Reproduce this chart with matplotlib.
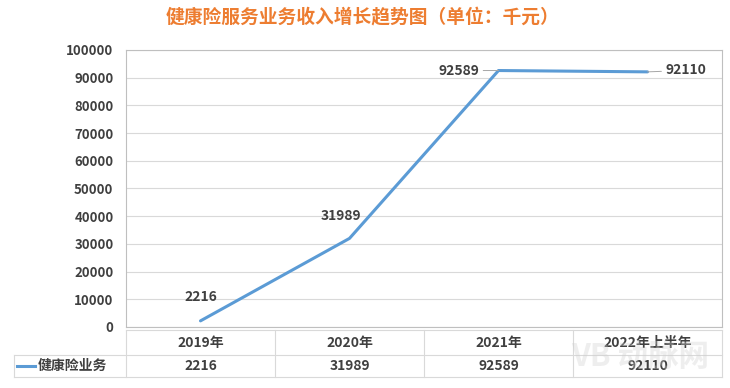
import matplotlib.pyplot as plt

plt.rcParams['font.family'] = ['Noto Sans CJK SC', 'DejaVu Sans']

years = ['2019年', '2020年', '2021年', '2022年上半年']
revenue = [2216, 31989, 92589, 92110]
series_name = '健康险业务'
y_ticks = [0, 10000, 20000, 30000, 40000, 50000, 60000, 70000, 80000, 90000, 100000]

line_color = '#5B9BD5'
text_color = '#404040'
grid_color = '#D9D9D9'

fig = plt.figure(figsize=(7.3, 3.88), dpi=100)
ax = fig.add_axes([126 / 730, 1 - 327 / 388, 596 / 730, 277 / 388])

x = list(range(len(years)))
ax.plot(x, revenue, color=line_color, linewidth=2.2, solid_capstyle='round')

ax.set_xlim(-0.5, len(years) - 0.5)
ax.set_ylim(0, 100000)
ax.set_yticks(y_ticks)
ax.set_yticklabels([str(v) for v in y_ticks], fontsize=9.5, fontweight='bold', color=text_color)
ax.set_xticks([])
ax.tick_params(axis='y', length=0, pad=9)
ax.grid(axis='y', color=grid_color, linewidth=0.8)
ax.set_axisbelow(True)
for s in ax.spines.values():
    s.set_color('#BFBFBF')
    s.set_linewidth(0.8)

# data labels
lab_kw = dict(fontsize=10, fontweight='bold', color=text_color)
ax.annotate(str(revenue[0]), (x[0], revenue[0]), xytext=(0, 12), textcoords='offset points',
            ha='center', va='bottom', **lab_kw)
ax.annotate(str(revenue[1]), (x[1], revenue[1]), xytext=(-6, 11), textcoords='offset points',
            ha='center', va='bottom', **lab_kw)
ax.annotate(str(revenue[2]), (x[2], revenue[2]), xytext=(-14, 0), textcoords='offset points',
            ha='right', va='center', arrowprops=dict(arrowstyle='-', color='#A6A6A6', lw=0.7,
                                                     shrinkA=1, shrinkB=0), **lab_kw)
ax.annotate(str(revenue[3]), (x[3], revenue[3]), xytext=(13, 1), textcoords='offset points',
            ha='left', va='center', arrowprops=dict(arrowstyle='-', color='#A6A6A6', lw=0.7,
                                                    shrinkA=1, shrinkB=0), **lab_kw)

# data table below the plot
tr = ax.transAxes
col_w = 1 / len(years)
left = (14 - 126) / 596
y_top = (327 - 330) / 277
y_mid = (327 - 355) / 277
y_bot = (327 - 377) / 277
line_kw = dict(transform=tr, color=grid_color, linewidth=0.8, clip_on=False)
ax.plot([0, 1], [y_top, y_top], **line_kw)
ax.plot([left, 1], [y_mid, y_mid], **line_kw)
ax.plot([left, 1], [y_bot, y_bot], **line_kw)
ax.plot([left, left], [y_mid, y_bot], **line_kw)
for i in range(len(years) + 1):
    ax.plot([i * col_w, i * col_w], [y_top, y_bot], **line_kw)
for i, (yr, v) in enumerate(zip(years, revenue)):
    cx = (i + 0.5) * col_w
    ax.text(cx, (y_top + y_mid) / 2, yr, transform=tr, ha='center', va='center', **lab_kw)
    ax.text(cx, (y_mid + y_bot) / 2, str(v), transform=tr, ha='center', va='center', **lab_kw)
ax.plot([(17 - 126) / 596, (35 - 126) / 596], [(y_mid + y_bot) / 2] * 2, transform=tr,
        color=line_color, linewidth=2.2, clip_on=False)
ax.text((38 - 126) / 596, (y_mid + y_bot) / 2, series_name, transform=tr, ha='left', va='center', **lab_kw)

fig.text(0.497, 1 - 18 / 388, '健康险服务业务收入增长趋势图（单位：千元）', ha='center', va='center',
         fontsize=13.5, fontweight='bold', color='#ED7D31')

# watermark
fig.text(640 / 730, 1 - 358 / 388, 'VB 动脉网', ha='center', va='center', fontsize=22,
         color='#D0D0D0', alpha=0.35, fontweight='bold')

fig.savefig('out.png', dpi=100)
